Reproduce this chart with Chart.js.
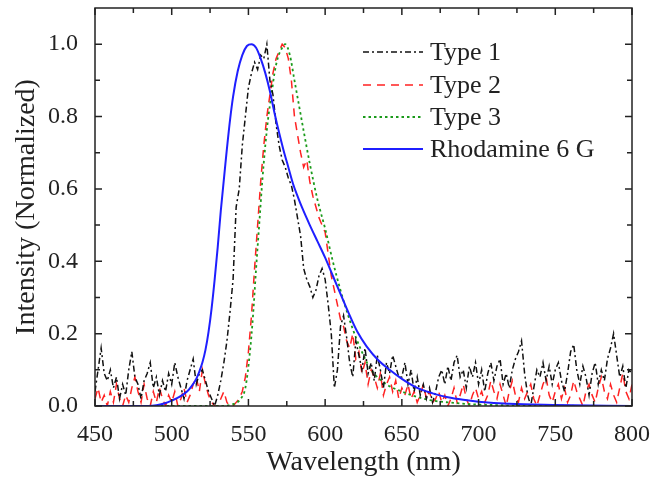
<!DOCTYPE html>
<html>
<head>
<meta charset="utf-8">
<script src="https://cdn.jsdelivr.net/npm/chart.js@4.4.0/dist/chart.umd.min.js"></script>
<style>
  html, body { margin: 0; padding: 0; background: #fff; }
  #wrap { width: 652px; height: 480px; }
</style>
</head>
<body>
<div id="wrap"><canvas id="spectrum" width="652" height="480"></canvas></div>
<script>
// --- data ---
const wavelength = [
  450,452,454,456,458,460,462,464,466,468,
  470,472,474,476,478,480,482,484,486,488,
  490,492,494,496,498,500,502,504,506,508,
  510,512,514,516,518,520,522,524,526,528,
  530,532,534,536,538,540,542,544,546,548,
  550,552,554,556,558,560,562,564,566,568,
  570,572,574,576,578,580,582,584,586,588,
  590,592,594,596,598,600,602,604,606,608,
  610,612,614,616,618,620,622,624,626,628,
  630,632,634,636,638,640,642,644,646,648,
  650,652,654,656,658,660,662,664,666,668,
  670,672,674,676,678,680,682,684,686,688,
  690,692,694,696,698,700,702,704,706,708,
  710,712,714,716,718,720,722,724,726,728,
  730,732,734,736,738,740,742,744,746,748,
  750,752,754,756,758,760,762,764,766,768,
  770,772,774,776,778,780,782,784,786,788,
  790,792,794,796,798,800
];

const type1 = [
  0.04,0.10,0.16,0.09,0.07,0.10,0.05,0.08,0.02,0.06,
  0.03,0.10,0.15,0.08,0.06,0.02,0.07,0.09,0.12,0.05,
  0.08,0.03,0.07,0.04,0.09,0.06,0.12,0.08,0.05,0.02,
  0.07,0.10,0.13,0.06,0.09,0.10,0.07,0.04,0.02,0.00,
  0.03,0.07,0.12,0.18,0.26,0.35,0.55,0.60,0.72,0.80,
  0.88,0.92,0.95,0.93,0.97,0.96,1.00,0.90,0.86,0.78,
  0.72,0.68,0.66,0.63,0.61,0.57,0.52,0.47,0.38,0.35,
  0.33,0.30,0.32,0.36,0.38,0.35,0.28,0.20,0.05,0.10,
  0.22,0.25,0.19,0.12,0.08,0.18,0.14,0.10,0.16,0.09,
  0.12,0.07,0.14,0.10,0.05,0.12,0.09,0.14,0.11,0.08,
  0.08,0.12,0.06,0.10,0.04,0.08,0.03,0.06,0.02,0.05,
  0.01,0.04,0.08,0.10,0.06,0.11,0.07,0.12,0.14,0.08,
  0.10,0.05,0.11,0.08,0.12,0.06,0.10,0.04,0.09,0.12,
  0.07,0.11,0.13,0.06,0.09,0.05,0.10,0.13,0.15,0.18,
  0.09,0.03,0.00,0.05,0.10,0.08,0.12,0.07,0.11,0.06,
  0.10,0.12,0.07,0.04,0.09,0.15,0.17,0.10,0.06,0.11,
  0.08,0.03,0.09,0.12,0.06,0.10,0.07,0.13,0.16,0.20,
  0.14,0.08,0.11,0.05,0.10,0.09
];

const type2 = [
  0.02,0.05,0.01,0.03,0.00,0.04,0.01,0.06,0.02,0.00,
  0.03,0.01,0.05,0.08,0.04,0.01,0.06,0.02,0.00,0.04,
  0.01,0.05,0.02,0.00,0.03,0.01,0.04,0.00,0.02,0.05,
  0.01,0.03,0.06,0.08,0.04,0.10,0.06,0.03,0.01,0.00,
  0.00,0.02,0.04,0.01,0.00,0.00,0.01,0.02,0.04,0.08,
  0.15,0.25,0.38,0.50,0.62,0.72,0.80,0.86,0.92,0.96,
  0.98,1.00,0.99,0.96,0.90,0.80,0.75,0.70,0.66,0.68,
  0.62,0.58,0.55,0.52,0.50,0.48,0.42,0.36,0.32,0.28,
  0.24,0.22,0.18,0.16,0.20,0.13,0.15,0.09,0.12,0.06,
  0.10,0.08,0.05,0.09,0.03,0.06,0.08,0.04,0.07,0.02,
  0.05,0.03,0.06,0.02,0.04,0.01,0.03,0.06,0.02,0.04,
  0.01,0.02,0.04,0.01,0.03,0.00,0.02,0.05,0.01,0.03,
  0.06,0.02,0.00,0.03,0.05,0.02,0.04,0.01,0.03,0.07,
  0.04,0.02,0.06,0.03,0.00,0.04,0.07,0.03,0.01,0.05,
  0.02,0.04,0.06,0.02,0.00,0.03,0.06,0.08,0.03,0.01,
  0.04,0.06,0.02,0.05,0.01,0.03,0.07,0.04,0.02,0.00,
  0.04,0.06,0.03,0.01,0.05,0.08,0.04,0.02,0.06,0.03,
  0.01,0.05,0.09,0.04,0.02,0.06
];

const type3Wave = [450,500,530,540,545,548,551,553,555,557,559,561,563,565,567,569,572,574,577,580,583,586,590,595,600,605,610,615,620,625,630,640,650,660,670,680,700,750,800];
const type3 = [0,0,0,0.005,0.02,0.05,0.15,0.25,0.38,0.50,0.62,0.72,0.80,0.86,0.92,0.96,0.99,1.0,0.97,0.90,0.83,0.76,0.67,0.57,0.49,0.40,0.32,0.25,0.19,0.14,0.10,0.06,0.04,0.025,0.015,0.01,0.004,0.001,0];

const r6gWave = [450,485,490,495,500,505,510,513,516,518,520,522,524,526,528,530,532,535,538,540,543,546,549,552,555,558,561,564,567,570,573,576,579,582,585,590,595,600,605,610,615,621,627,635,642,650,660,670,680,690,700,720,750,800];
const r6g = [0,0,0.002,0.007,0.015,0.025,0.04,0.055,0.075,0.095,0.12,0.155,0.205,0.27,0.35,0.44,0.54,0.67,0.79,0.855,0.925,0.97,0.995,1.0,0.99,0.96,0.92,0.87,0.81,0.755,0.705,0.66,0.615,0.58,0.548,0.50,0.455,0.41,0.36,0.31,0.26,0.205,0.165,0.125,0.10,0.075,0.05,0.035,0.024,0.017,0.012,0.006,0.003,0];

const seriesNames = ["Type 1", "Type 2", "Type 3", "Rhodamine 6 G"];
const xTicks = [450, 500, 550, 600, 650, 700, 750, 800];
const xMinorTicks = [475, 525, 575, 625, 675, 725, 775];
const yTicks = [0, 0.2, 0.4, 0.6, 0.8, 1.0];
const yMinorTicks = [0.1, 0.3, 0.5, 0.7, 0.9];

// --- styles ---
const SERIF = "'Liberation Serif', 'Times New Roman', serif";
const INK = "#222";
const colors = ["#111111", "#ff2222", "#1a9a1a", "#1f1fff"];
const dashes = [[6, 3, 2, 3], [8, 6], [2.5, 3], []];
const widths = [1.5, 1.5, 1.8, 2];

function pairs(xs, ys) {
  return xs.map((x, i) => ({ x: x, y: ys[i] }));
}

// 内向きの目盛りと枠線
const frameTicks = {
  id: "frameTicks",
  afterDatasetsDraw(chart) {
    const { ctx, chartArea: a, scales: { x, y } } = chart;
    ctx.save();
    ctx.strokeStyle = INK;
    ctx.lineWidth = 1.5;
    ctx.setLineDash([]);
    ctx.strokeRect(a.left, a.top, a.right - a.left, a.bottom - a.top);
    ctx.beginPath();
    const tickX = (v, len) => {
      const px = x.getPixelForValue(v);
      ctx.moveTo(px, a.bottom); ctx.lineTo(px, a.bottom - len);
      ctx.moveTo(px, a.top); ctx.lineTo(px, a.top + len);
    };
    const tickY = (v, len) => {
      const py = y.getPixelForValue(v);
      ctx.moveTo(a.left, py); ctx.lineTo(a.left + len, py);
      ctx.moveTo(a.right, py); ctx.lineTo(a.right - len, py);
    };
    xTicks.forEach(v => tickX(v, 7));
    xMinorTicks.forEach(v => tickX(v, 5));
    yTicks.forEach(v => tickY(v, 7));
    yMinorTicks.forEach(v => tickY(v, 5));
    ctx.stroke();
    ctx.restore();
  }
};

// 凡例（線の見本つき）
const lineLegend = {
  id: "lineLegend",
  afterDraw(chart) {
    const ctx = chart.ctx;
    const rows = [52, 85, 117, 149];
    ctx.save();
    seriesNames.forEach((name, i) => {
      ctx.beginPath();
      ctx.strokeStyle = colors[i];
      ctx.lineWidth = widths[i];
      ctx.setLineDash(dashes[i]);
      ctx.moveTo(363, rows[i]);
      ctx.lineTo(423, rows[i]);
      ctx.stroke();
      ctx.setLineDash([]);
      ctx.fillStyle = INK;
      ctx.font = "26px " + SERIF;
      ctx.textBaseline = "middle";
      ctx.textAlign = "left";
      ctx.fillText(name, 430, rows[i] + 1);
    });
    ctx.restore();
  }
};

const datasets = [
  { label: seriesNames[0], data: pairs(wavelength, type1), tension: 0, order: 1 },
  { label: seriesNames[1], data: pairs(wavelength, type2), tension: 0, order: 3 },
  { label: seriesNames[2], data: pairs(type3Wave, type3), cubicInterpolationMode: "monotone", order: 2 },
  { label: seriesNames[3], data: pairs(r6gWave, r6g), cubicInterpolationMode: "monotone", order: 0 }
].map((d, i) => Object.assign(d, {
  borderColor: colors[i],
  borderWidth: widths[i],
  borderDash: dashes[i],
  pointRadius: 0,
  fill: false
}));

const ctx = document.getElementById("spectrum").getContext("2d");
new Chart(ctx, {
  type: "line",
  data: { datasets: datasets },
  options: {
    responsive: false,
    animation: false,
    layout: { padding: { left: 0, right: 20, top: 8, bottom: 0 } },
    plugins: {
      legend: { display: false },
      tooltip: { enabled: false }
    },
    scales: {
      x: {
        type: "linear",
        min: 450,
        max: 800,
        afterBuildTicks: s => { s.ticks = xTicks.map(v => ({ value: v })); },
        afterFit: s => { s.height = 74; s.paddingLeft = 0; s.paddingRight = 0; },
        grid: { display: false },
        border: { display: false },
        ticks: { color: INK, padding: 6, font: { family: SERIF, size: 24 }, maxRotation: 0 },
        title: { display: true, text: "Wavelength (nm)", color: INK, font: { family: SERIF, size: 28 }, padding: { top: 0, bottom: 1 } }
      },
      y: {
        min: 0,
        max: 1.1,
        afterBuildTicks: s => { s.ticks = yTicks.map(v => ({ value: v })); },
        afterFit: s => { s.width = 95; s.paddingTop = 0; s.paddingBottom = 0; },
        grid: { display: false },
        border: { display: false },
        ticks: { color: INK, padding: 9, font: { family: SERIF, size: 24 }, callback: v => v.toFixed(1) },
        title: { display: true, text: "Intensity (Normalized)", color: INK, font: { family: SERIF, size: 28 }, padding: { top: 10, bottom: 0 } }
      }
    }
  },
  plugins: [frameTicks, lineLegend]
});
</script>
</body>
</html>
